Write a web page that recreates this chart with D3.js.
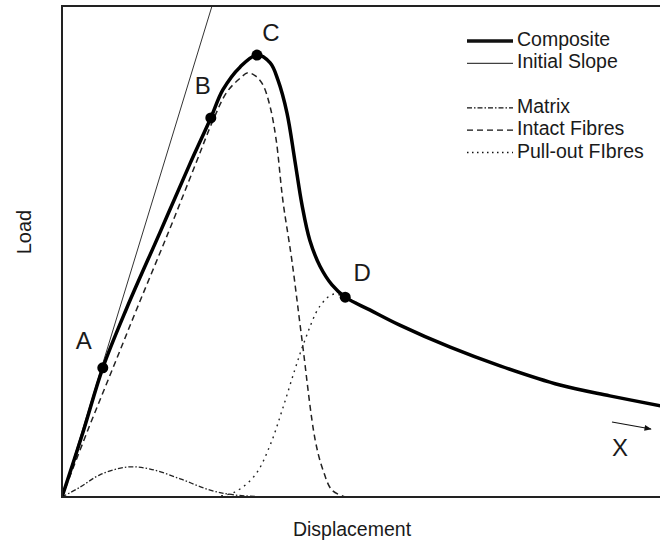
<!DOCTYPE html>
<html>
<head>
<meta charset="utf-8">
<script src="https://cdn.jsdelivr.net/npm/d3@7"></script>
<style>
  html, body { margin: 0; padding: 0; background: #fff; }
  svg { display: block; }
  text { font-family: "Liberation Sans", Arial, sans-serif; fill: #1a1a1a; }
</style>
</head>
<body>
<svg id="chart" width="660" height="550"></svg>
<script>
// Load–displacement response of a fibre composite and its components
const composite = [
  [0, 0], [0.35, 1.32], [0.68, 2.63], [1.08, 3.85], [1.63, 5.38], [2.13, 6.78],
  [2.48, 7.72], [2.68, 8.29], [2.97, 8.76], [3.25, 9.00], [3.47, 8.84], [3.60, 8.49],
  [3.75, 7.82], [3.88, 6.86], [4.00, 5.95], [4.13, 5.23], [4.30, 4.70], [4.50, 4.32],
  [4.72, 4.07], [5.13, 3.81], [5.63, 3.50], [6.47, 3.05], [7.30, 2.67], [8.30, 2.28],
  [9.13, 2.06], [10.0, 1.85]
];
const initialSlope = [[0, 0], [2.5, 10.0]];
const matrix = [
  [0, 0], [0.30, 0.20], [0.63, 0.45], [1.08, 0.61], [1.47, 0.57], [1.97, 0.37],
  [2.47, 0.14], [2.88, 0.04], [3.47, 0]
];
const intactFibres = [
  [0, 0], [0.43, 1.36], [0.85, 2.63], [1.27, 3.90], [1.77, 5.38], [2.22, 6.76],
  [2.52, 7.68], [2.75, 8.25], [2.97, 8.53], [3.10, 8.64], [3.23, 8.57], [3.35, 8.39],
  [3.47, 7.94], [3.57, 7.27], [3.68, 6.05], [3.83, 4.83], [4.00, 3.20], [4.22, 1.16],
  [4.35, 0.55], [4.50, 0.14], [4.72, 0]
];
const pullOutFibres = [
  [2.55, 0], [2.88, 0.10], [3.22, 0.45], [3.47, 1.06], [3.67, 1.77], [3.88, 2.59],
  [4.05, 3.20], [4.30, 3.89], [4.52, 4.13], [4.72, 4.07], [5.13, 3.81], [5.63, 3.50]
];
const keyPoints = [
  { label: "A", x: 0.68, y: 2.63 },
  { label: "B", x: 2.48, y: 7.72 },
  { label: "C", x: 3.25, y: 9.00 },
  { label: "D", x: 4.72, y: 4.07 }
];
const legendItems = [
  { name: "Composite", dash: null, width: 3.5 },
  { name: "Initial Slope", dash: null, width: 1 },
  null,
  { name: "Matrix", dash: "5,2,1.5,2", width: 1.3 },
  { name: "Intact Fibres", dash: "6,4", width: 1.3 },
  { name: "Pull-out FIbres", dash: "1.5,3.5", width: 1.3 }
];

const svg = d3.select("#chart");
const plotLeft = 62, plotTop = 6, plotBottom = 497, plotRight = 662;

const x = d3.scaleLinear().domain([0, 10]).range([plotLeft, plotRight]);
const y = d3.scaleLinear().domain([0, 10]).range([plotBottom, plotTop]);

const defs = svg.append("defs");
defs.append("clipPath").attr("id", "plot")
  .append("rect").attr("x", plotLeft).attr("y", plotTop)
  .attr("width", plotRight - plotLeft + 20).attr("height", plotBottom - plotTop);

const line = d3.line().x(d => x(d[0])).y(d => y(d[1])).curve(d3.curveCatmullRom.alpha(0.5));
const g = svg.append("g").attr("clip-path", "url(#plot)");

g.append("path").datum(matrix).attr("d", line)
  .attr("fill", "none").attr("stroke", "#222").attr("stroke-width", 1.3).attr("stroke-dasharray", "5,2,1.5,2");
g.append("path").datum(pullOutFibres).attr("d", line)
  .attr("fill", "none").attr("stroke", "#222").attr("stroke-width", 1.4).attr("stroke-dasharray", "1.8,4.5");
g.append("path").datum(intactFibres).attr("d", line)
  .attr("fill", "none").attr("stroke", "#222").attr("stroke-width", 1.5).attr("stroke-dasharray", "6,4");
g.append("path").datum(initialSlope).attr("d", d3.line().x(d => x(d[0])).y(d => y(d[1])))
  .attr("fill", "none").attr("stroke", "#333").attr("stroke-width", 1);
g.append("path").datum(composite).attr("d", line)
  .attr("fill", "none").attr("stroke", "#000").attr("stroke-width", 3.5).attr("stroke-linejoin", "round");

// key points
g.selectAll("circle.pt").data(keyPoints).join("circle")
  .attr("cx", d => x(d.x)).attr("cy", d => y(d.y)).attr("r", 5.5).attr("fill", "#000");
const labelOffset = { A: [-19, -25], B: [-8, -30], C: [14, -20], D: [17, -23] };
svg.selectAll("text.pt").data(keyPoints).join("text")
  .attr("x", d => x(d.x) + labelOffset[d.label][0])
  .attr("y", d => y(d.y) + labelOffset[d.label][1])
  .attr("text-anchor", "middle").attr("dominant-baseline", "middle")
  .attr("font-size", 24).text(d => d.label);

// frame
svg.append("path")
  .attr("d", `M${plotRight + 20},${plotTop}H${plotLeft}V${plotBottom}H${plotRight + 20}`)
  .attr("fill", "none").attr("stroke", "#222").attr("stroke-width", 2);

// legend
const lg = svg.append("g").attr("transform", "translate(467,41)");
legendItems.forEach((item, i) => {
  if (!item) return;
  const row = lg.append("g").attr("transform", `translate(0,${i * 22.3})`);
  row.append("line").attr("x1", 0).attr("x2", 46).attr("y1", 0).attr("y2", 0)
    .attr("stroke", "#111").attr("stroke-width", item.width)
    .attr("stroke-dasharray", item.dash);
  row.append("text").attr("x", 50).attr("y", 0).attr("dominant-baseline", "middle")
    .attr("font-size", 19.5).text(item.name);
});

// direction marker
defs.append("marker").attr("id", "arrow")
  .attr("viewBox", "0 0 10 10").attr("refX", 9).attr("refY", 5)
  .attr("markerWidth", 7).attr("markerHeight", 6).attr("orient", "auto")
  .append("path").attr("d", "M0,1L10,5L0,9Z").attr("fill", "#111");
svg.append("line").attr("x1", 612).attr("y1", 422).attr("x2", 651).attr("y2", 429)
  .attr("stroke", "#111").attr("stroke-width", 1.2).attr("marker-end", "url(#arrow)");
svg.append("text").attr("x", 620).attr("y", 450).attr("text-anchor", "middle")
  .attr("dominant-baseline", "middle").attr("font-size", 24).text("X");

// axis titles
svg.append("text").attr("transform", "translate(26,232) rotate(-90)")
  .attr("text-anchor", "middle").attr("dominant-baseline", "middle")
  .attr("font-size", 20).text("Load");
svg.append("text").attr("x", 352).attr("y", 531)
  .attr("text-anchor", "middle").attr("dominant-baseline", "middle")
  .attr("font-size", 19.5).text("Displacement");
</script>
</body>
</html>
